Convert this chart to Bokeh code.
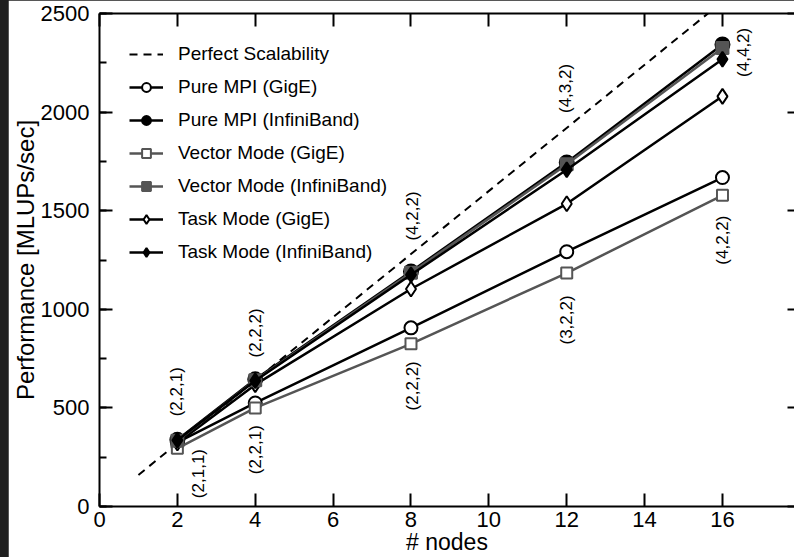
import math
from bokeh.plotting import figure
from bokeh.models import (LinearAxis, SingleIntervalTicker, Legend, LegendItem,
                          ColumnDataSource, Range1d, GlobalInlineStyleSheet)
from bokeh.core.properties import value
from bokeh.embed import file_html
from bokeh.resources import INLINE

# ---------------- data ----------------
nodes = [2, 4, 8, 12, 16]
pure_mpi_gige = [325, 525, 906, 1292, 1668]
pure_mpi_ib = [338, 645, 1192, 1745, 2343]
vector_gige = [295, 500, 825, 1184, 1578]
vector_ib = [333, 640, 1185, 1735, 2325]
task_gige = [322, 618, 1103, 1535, 2080]
task_ib = [336, 638, 1175, 1708, 2268]

perfect_nodes = [1, 16]
perfect_perf = [160, 2560]

x_ticks = [0, 2, 4, 6, 8, 10, 12, 14, 16, 18]
y_ticks = [0, 500, 1000, 1500, 2000, 2500]

# process-grid annotations (label, nodes, performance position)
ann_labels = ["(2,2,1)", "(2,1,1)", "(2,2,2)", "(2,2,1)", "(4,2,2)",
              "(2,2,2)", "(4,3,2)", "(3,2,2)", "(4,4,2)", "(4,2,2)"]
ann_x = [1.98, 2.55, 4.0, 4.0, 8.05, 8.05, 11.97, 12.0, 16.54, 16.0]
ann_y = [582, 167, 880, 288, 1473, 612, 2120, 946, 2303, 1351]

FONT = "Liberation Sans"

p = figure(width=786, height=557, output_backend="svg", toolbar_location=None,
           x_range=Range1d(0, 17.85), y_range=Range1d(0, 2500),
           min_border_left=91, min_border_right=0, min_border_top=13,
           min_border_bottom=50, x_axis_location=None, y_axis_location=None)
p.stylesheets = [GlobalInlineStyleSheet(css="body{background:#1f1f1f;margin:0 0 0 8px;overflow:hidden}")]
p.outline_line_color = None
p.xgrid.visible = False
p.ygrid.visible = False
p.background_fill_color = "white"
p.border_fill_color = "white"

xt = SingleIntervalTicker(interval=2, num_minor_ticks=0)
yt = SingleIntervalTicker(interval=500, num_minor_ticks=2)

bottom = LinearAxis(ticker=xt, axis_label="# nodes")
left = LinearAxis(ticker=yt, axis_label="Performance [MLUPs/sec]")
top = LinearAxis(ticker=SingleIntervalTicker(interval=2, num_minor_ticks=0))
right = LinearAxis(ticker=SingleIntervalTicker(interval=500, num_minor_ticks=0))

for ax in (bottom, left, top, right):
    ax.axis_line_color = "black"
    ax.axis_line_width = 2
    ax.major_tick_line_color = "black"
    ax.major_tick_line_width = 2
    ax.minor_tick_line_color = "black"
    ax.minor_tick_line_width = 2
    ax.major_tick_out = 0
    ax.minor_tick_out = 0
    ax.major_label_text_font = FONT
    ax.major_label_text_color = "black"
    ax.axis_label_text_font = FONT
    ax.axis_label_text_font_style = "normal"
    ax.axis_label_text_color = "black"

bottom.major_tick_in = 13
bottom.minor_tick_in = 0
bottom.major_label_text_font_size = "22px"
bottom.major_label_standoff = 5
bottom.axis_label_text_font_size = "23px"
bottom.axis_label_standoff = -1

left.major_tick_in = 13
left.minor_tick_in = 7
left.major_label_text_font_size = "22px"
left.major_label_standoff = 10
left.axis_label_text_font_size = "24px"
left.axis_label_standoff = -1

top.major_tick_in = 13
top.minor_tick_in = 0
top.major_label_standoff = 0
top.major_label_overrides = {t: "" for t in x_ticks}

right.axis_line_color = None
right.major_tick_in = 7
right.minor_tick_in = 0
right.major_label_standoff = 0
right.major_label_overrides = {t: "" for t in y_ticks}

p.add_layout(bottom, "below")
p.add_layout(left, "left")
p.add_layout(top, "above")
p.add_layout(right, "right")

# ---------------- glyphs ----------------
perfect_r = p.line(perfect_nodes, perfect_perf, line_color="black", line_width=2,
                   line_dash="8 6")

series = [
    ("Pure MPI (GigE)", pure_mpi_gige, "black", "circle", "white", 13),
    ("Vector Mode (GigE)", vector_gige, "#555555", "square", "white", 11),
    ("Task Mode (GigE)", task_gige, "black", "diamond", "white", 15),
    ("Pure MPI (InfiniBand)", pure_mpi_ib, "black", "circle", "black", 14),
    ("Vector Mode (InfiniBand)", vector_ib, "#555555", "square", "#555555", 12),
    ("Task Mode (InfiniBand)", task_ib, "black", "diamond", "black", 15),
]
renders = {}
for name, vals, col, mk, fill, sz in series:
    src = ColumnDataSource(dict(x=nodes, y=vals))
    lr = p.line("x", "y", source=src, line_color=col, line_width=2.5)
    sr = p.scatter("x", "y", source=src, marker=mk, size=sz, line_color=col,
                   line_width=2, fill_color=fill)
    renders[name] = [lr, sr]

ann_src = ColumnDataSource(dict(x=ann_x, y=ann_y, t=ann_labels))
p.text("x", "y", text="t", source=ann_src, angle=math.pi / 2,
       text_font=value(FONT), text_font_size="17px", text_color="black",
       text_align="center", text_baseline="middle")

legend_order = ["Pure MPI (GigE)", "Pure MPI (InfiniBand)", "Vector Mode (GigE)",
                "Vector Mode (InfiniBand)", "Task Mode (GigE)", "Task Mode (InfiniBand)"]
items = [LegendItem(label="Perfect Scalability", renderers=[perfect_r])]
items += [LegendItem(label=n, renderers=renders[n]) for n in legend_order]
legend = Legend(items=items, location="top_left", margin=30, padding=0,
                glyph_width=34, glyph_height=22, label_height=22, spacing=11,
                label_standoff=15, label_text_font=FONT, label_text_font_size="19px",
                label_text_color="black", border_line_color=None,
                background_fill_alpha=0)
p.add_layout(legend, "center")

html = file_html(p, INLINE)
open("out.html", "w").write(html)
